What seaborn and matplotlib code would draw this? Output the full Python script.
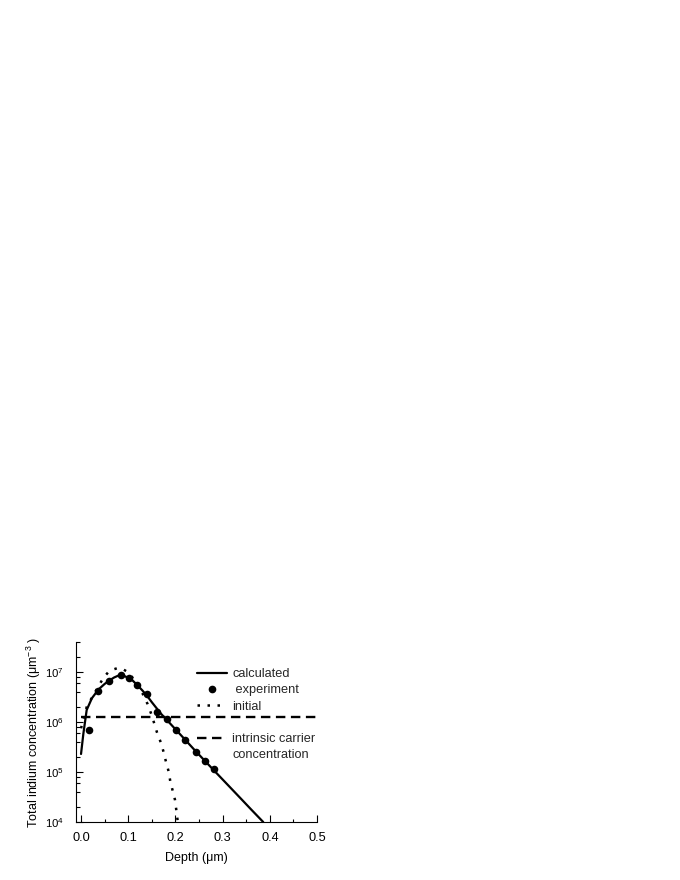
import numpy as np
import pandas as pd
import matplotlib
matplotlib.use("Agg")
import matplotlib.pyplot as plt
import seaborn as sns
from matplotlib.lines import Line2D
from matplotlib.ticker import LogLocator, MultipleLocator, LogFormatterSciNotation, NullFormatter

# ---- data ----
calc_depth = [0.0, 0.005, 0.012, 0.023, 0.037, 0.05, 0.06, 0.07, 0.08, 0.09, 0.10, 0.11,
              0.12, 0.13, 0.14, 0.15, 0.16, 0.17, 0.18, 0.20, 0.22, 0.24, 0.26, 0.28,
              0.30, 0.32, 0.34, 0.36, 0.386]
calc_conc = [2.3e5, 5.9e5, 1.75e6, 3.0e6, 4.5e6, 5.8e6, 6.8e6, 7.8e6, 8.6e6, 8.5e6, 7.7e6, 6.7e6,
             5.4e6, 4.3e6, 3.35e6, 2.5e6, 1.9e6, 1.45e6, 1.15e6, 7.2e5, 4.5e5, 2.8e5, 1.77e5, 1.12e5,
             7.1e4, 4.5e4, 2.85e4, 1.8e4, 1.0e4]

exp_depth = [0.016, 0.037, 0.059, 0.084, 0.101, 0.118, 0.139, 0.161, 0.182, 0.202,
             0.220, 0.244, 0.263, 0.281]
exp_conc = [6.9e5, 4.2e6, 6.6e6, 8.9e6, 7.5e6, 5.6e6, 3.6e6, 1.6e6, 1.15e6, 7.1e5,
            4.4e5, 2.5e5, 1.7e5, 1.13e5]

init_depth = [0.0, 0.012, 0.024, 0.036, 0.047, 0.057, 0.067, 0.077, 0.087, 0.097, 0.106,
              0.118, 0.13, 0.141, 0.150, 0.161, 0.170, 0.175, 0.180, 0.186, 0.189, 0.194,
              0.199, 0.202, 0.205]
init_conc = [7.5e5, 2.0e6, 3.2e6, 5.0e6, 7.6e6, 9.8e6, 1.12e7, 1.2e7, 1.17e7, 1.03e7, 8.5e6,
             6.0e6, 3.8e6, 2.3e6, 1.35e6, 6.2e5, 3.7e5, 2.5e5, 1.6e5, 1.0e5, 6.6e4, 4.3e4,
             2.8e4, 1.7e4, 1.0e4]

intr_depth = [0.0, 0.5]
intr_conc = [1.24e6, 1.24e6]

x_ticks = [0.0, 0.1, 0.2, 0.3, 0.4, 0.5]

# ---- style ----
sns.set_theme(style="ticks")
plt.rcParams["font.family"] = ["Liberation Sans", "DejaVu Sans"]
plt.rcParams["mathtext.fontset"] = "custom"
plt.rcParams["mathtext.rm"] = "Liberation Sans"
plt.rcParams["mathtext.it"] = "Liberation Sans:italic"
plt.rcParams["mathtext.bf"] = "Liberation Sans:bold"

fig = plt.figure(figsize=(6.8, 8.8), dpi=100)
ax = fig.add_axes([0.1118, 0.0659, 0.3544, 0.2045])
ax.set_yscale("log")

calc_df = pd.DataFrame({"depth": calc_depth, "conc": calc_conc})
exp_df = pd.DataFrame({"depth": exp_depth, "conc": exp_conc})
init_df = pd.DataFrame({"depth": init_depth, "conc": init_conc})
intr_df = pd.DataFrame({"depth": intr_depth, "conc": intr_conc})

sns.lineplot(data=calc_df, x="depth", y="conc", ax=ax, color="black", linewidth=1.6,
             label="calculated", sort=False)
sns.lineplot(data=init_df, x="depth", y="conc", ax=ax, color="black", linewidth=1.8,
             linestyle=(0, (1.0, 3.0)), label="initial", sort=False)
sns.lineplot(data=intr_df, x="depth", y="conc", ax=ax, color="black", linewidth=1.7,
             linestyle=(0, (4.0, 2.35)), label="intrinsic carrier", sort=False)
sns.scatterplot(data=exp_df, x="depth", y="conc", ax=ax, color="black", s=30,
                linewidth=0, label="experiment", zorder=5)

ax.set_xlim(-0.0106, 0.5)
ax.set_ylim(1e4, 4e7)

ax.xaxis.set_major_locator(plt.FixedLocator(x_ticks))
ax.xaxis.set_major_formatter(plt.FormatStrFormatter("%.1f"))
ax.xaxis.set_minor_locator(MultipleLocator(0.05))
ax.yaxis.set_major_locator(LogLocator(base=10, numticks=10))
ax.yaxis.set_major_formatter(LogFormatterSciNotation())
ax.yaxis.set_minor_locator(LogLocator(base=10, subs=[2, 4, 6, 8], numticks=20))
ax.yaxis.set_minor_formatter(NullFormatter())

ax.tick_params(axis="both", which="both", direction="in", color="black", width=0.8,
               labelcolor="black")
ax.tick_params(axis="x", which="major", length=5, pad=7, labelsize=9.2)
ax.tick_params(axis="x", which="minor", length=2.5)
ax.tick_params(axis="y", which="major", length=5, pad=8.5, labelsize=8.2)
ax.tick_params(axis="y", which="minor", length=3)

for side in ["top", "right"]:
    ax.spines[side].set_visible(False)
for side in ["left", "bottom"]:
    ax.spines[side].set_color("black")
    ax.spines[side].set_linewidth(0.8)

ax.set_xlabel("Depth (μm)", fontsize=9, color="black", labelpad=6)
ax.set_ylabel("Total indium concentration (μm$^{-3}$ )", fontsize=9, color="black", labelpad=1.5)

# ---- legend ----
handles, labels = ax.get_legend_handles_labels()
hmap = dict(zip(labels, handles))
blank = Line2D([], [], linestyle="none")
exp_proxy = Line2D([], [], marker="o", linestyle="none", color="black", markersize=4.5)
leg_handles = [hmap["calculated"], exp_proxy, hmap["initial"], blank,
               hmap["intrinsic carrier"], Line2D([], [], linestyle="none")]
leg_labels = ["calculated", " experiment", "initial", " ", "intrinsic carrier", "concentration"]
ax.legend(leg_handles, leg_labels, loc="upper left", bbox_to_anchor=(0.50, 0.855),
          frameon=False, fontsize=9.2, handlelength=2.4, handletextpad=0.4,
          labelspacing=0.33, borderpad=0, borderaxespad=0)

fig.savefig("out.png", dpi=100, facecolor="white")
